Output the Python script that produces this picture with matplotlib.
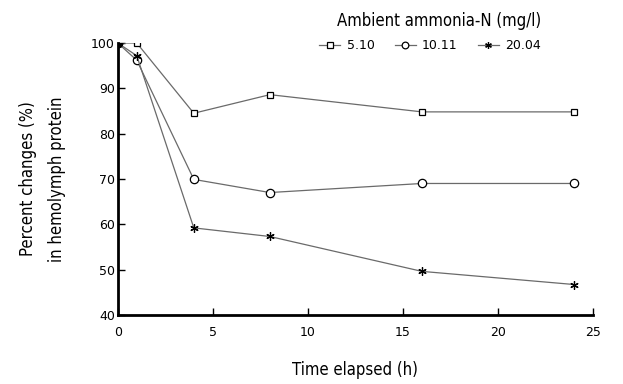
import matplotlib.pyplot as plt

# hemolymph protein change vs time, three ammonia levels
hours = [0, 1, 4, 8, 16, 24]
conc_labels = ["5.10", "10.11", "20.04"]
p_510 = [100, 100, 84.5, 88.6, 84.8, 84.8]
p_1011 = [100, 96.2, 69.9, 67.0, 69.0, 69.0]
p_2004 = [100, 97.2, 59.2, 57.3, 49.6, 46.7]

fig = plt.figure(figsize=(6.23, 3.84), dpi=100)
ax = fig.add_axes([0.189, 0.180, 0.763, 0.708])

series = [p_510, p_1011, p_2004]
markers = ["s", "o", (6, 2, 0)]
sizes = [5, 6, 6]
for vals, m, s, lab in zip(series, markers, sizes, conc_labels):
    ax.plot(hours, vals, color="#6a6a6a", lw=0.9, marker=m, ms=s,
            mfc="white", mec="black", mew=0.9, label=lab)
ax.plot([0], [100], marker="o", ms=6, color="black")

ax.set_xlim(0, 25)
ax.set_ylim(40, 100)
ax.set_xticks([0, 5, 10, 15, 20, 25])
ax.set_yticks([40, 50, 60, 70, 80, 90, 100])
for sp in ["top", "right"]:
    ax.spines[sp].set_visible(False)
for sp in ["left", "bottom"]:
    ax.spines[sp].set_linewidth(2)
ax.tick_params(direction="in", length=5, width=1, labelsize=9, pad=2)
ax.tick_params(axis="x", pad=8)

lab_font = dict(fontsize=12, fontstretch="condensed", family="DejaVu Sans")
ax.set_xlabel("Time elapsed (h)", labelpad=16, **lab_font)
ax.set_ylabel("Percent changes (%)\nin hemolymph protein", labelpad=18,
              linespacing=1.8, **lab_font)

fig.text(0.705, 0.945, "Ambient ammonia-N (mg/l)", ha="center", va="center",
         **lab_font)
ax.legend(loc="upper left", bbox_to_anchor=(0.40, 1.055), ncol=3,
          frameon=False, fontsize=9, handlelength=1.7, columnspacing=1.6,
          handletextpad=0.5, markerscale=0.8)

plt.savefig("out.png", dpi=100)
